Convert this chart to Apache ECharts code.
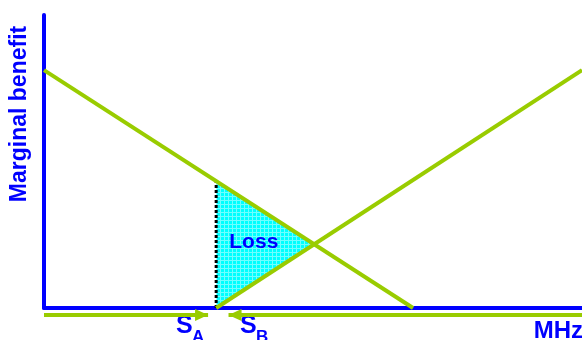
<!DOCTYPE html>
<html><head><meta charset="utf-8">
<script src="https://cdn.jsdelivr.net/npm/echarts@6/dist/echarts.min.js"></script>
<style>html,body{margin:0;padding:0;background:#fff}#c{width:582px;height:340px}</style>
</head><body><div id="c"></div>
<script>
// Data (x: MHz scale 0-100, y: marginal benefit 0-100)
const demandA = [[0, 81.2], [68.6, 0]];
const demandB = [[32.0, 0], [100, 81.2]];
const lossTriangle = [[32.0, 0], [32.0, 43.3], [50.2, 21.8]];
const splitLine = [[32.0, 0], [32.0, 43.3]];
const arrowA = [[0, -2.4], [30.5, -2.4]];
const arrowB = [[100, -2.4], [34.3, -2.4]];
const yTitle = 'Marginal benefit';
const xTitle = 'MHz';
const lossLabel = 'Loss';
const sLabels = ['A', 'B'];

const blue = '#0000FF';
const green = '#99CC00';
const font = '"Liberation Sans", Arial, sans-serif';

// hatch pattern
const pc = document.createElement('canvas');
pc.width = 4; pc.height = 4;
const g = pc.getContext('2d');
g.fillStyle = '#00FFFF'; g.fillRect(0, 0, 4, 4);
g.fillStyle = '#70FFFF'; g.fillRect(0, 0, 4, 1); g.fillRect(0, 0, 1, 4);

const chart = echarts.init(document.getElementById('c'), null, {renderer: 'canvas'});
chart.setOption({
  animation: false,
  grid: {left: 44, right: 0, top: 15, bottom: 32},
  xAxis: {type: 'value', min: 0, max: 100,
    axisLine: {show: true, lineStyle: {color: blue, width: 4}},
    axisTick: {show: false}, axisLabel: {show: false}, splitLine: {show: false}},
  yAxis: {type: 'value', min: 0, max: 100,
    axisLine: {show: true, lineStyle: {color: blue, width: 4}},
    axisTick: {show: false}, axisLabel: {show: false}, splitLine: {show: false}},
  series: [
    {type: 'custom', data: [0], z: 1,
      renderItem: function (params, api) {
        const pts = lossTriangle.map(p => api.coord(p));
        return {type: 'polygon', shape: {points: pts},
          style: {fill: {image: pc, repeat: 'repeat'}}};
      }},
    {type: 'line', data: splitLine, symbol: 'none', z: 3,
      lineStyle: {color: '#000', width: 3, type: [3, 2]}},
    {type: 'line', data: demandA, symbol: 'none', z: 4,
      lineStyle: {color: green, width: 4}},
    {type: 'line', data: demandB, symbol: 'none', z: 4,
      lineStyle: {color: green, width: 4}},
    {type: 'line', data: arrowA, clip: false, z: 4, showSymbol: false,
      lineStyle: {color: green, width: 4}},
    {type: 'line', data: arrowB, clip: false, z: 4, showSymbol: false,
      lineStyle: {color: green, width: 4}},
    {type: 'custom', data: [arrowA[1], arrowB[1]], clip: false, z: 5,
      renderItem: function (params, api) {
        const p = api.coord([api.value(0), api.value(1)]);
        const dir = params.dataIndex === 0 ? 1 : -1;
        return {type: 'polygon',
          shape: {points: [[p[0], p[1]], [p[0] - dir * 13, p[1] - 6], [p[0] - dir * 13, p[1] + 6]]},
          style: {fill: green}};
      }},
    {type: 'custom', data: [0], z: 6,
      renderItem: function (params, api) {
        const a = api.coord(lossTriangle[1]);
        const b = api.coord(lossTriangle[2]);
        const c = api.coord(lossTriangle[0]);
        return {type: 'text', x: (a[0] + b[0] + c[0]) / 3 + 5, y: (a[1] + b[1] + c[1]) / 3 - 2,
          style: {text: lossLabel, font: 'bold 21px ' + font, fill: blue,
            align: 'center', verticalAlign: 'middle'}};
      }}
  ],
  graphic: [
    {type: 'text', x: 20, y: 114, rotation: Math.PI / 2,
      style: {text: yTitle, font: 'bold 23px ' + font, fill: blue, align: 'center', verticalAlign: 'middle'}},
    {type: 'text', x: 176, y: 314, style: {text: 'S', font: 'bold 25px ' + font, fill: blue}},
    {type: 'text', x: 192, y: 329, style: {text: sLabels[0], font: 'bold 17px ' + font, fill: blue}},
    {type: 'text', x: 240, y: 314, style: {text: 'S', font: 'bold 25px ' + font, fill: blue}},
    {type: 'text', x: 256, y: 329, style: {text: sLabels[1], font: 'bold 17px ' + font, fill: blue}},
    {type: 'text', x: 583, y: 319, style: {text: xTitle, font: 'bold 24px ' + font, fill: blue, align: 'right'}}
  ]
});
</script></body></html>
